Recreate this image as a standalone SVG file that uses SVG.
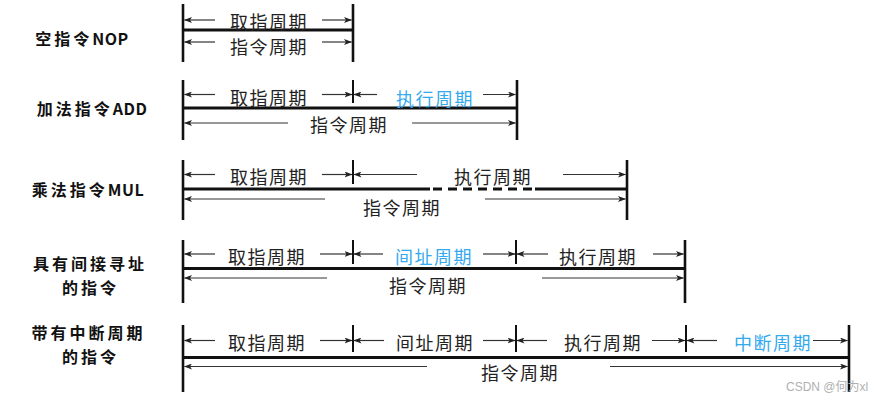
<svg xmlns="http://www.w3.org/2000/svg" width="888" height="401" viewBox="0 0 888 401">
<defs>
<marker id="ah" markerUnits="userSpaceOnUse" markerWidth="8" markerHeight="6" refX="7.5" refY="3" orient="auto">
<path d="M0,0 L8,3 L0,6 L2,3 z" fill="#222"/>
</marker>
<style>
.lbl{font-family:"Noto Sans CJK SC","Noto Sans",sans-serif;font-weight:bold;font-size:16px;fill:#111;text-anchor:middle;dominant-baseline:central;letter-spacing:3px}
.lat{letter-spacing:0.5px}
.t{font-family:"Noto Sans CJK SC","Noto Sans",sans-serif;font-size:18px;fill:#222;text-anchor:middle;dominant-baseline:central;letter-spacing:1.5px}
.b{fill:#33a9ee}
.v{stroke:#111;stroke-width:2.6;fill:none}
.k{stroke:#111;stroke-width:2;fill:none}
.h{stroke:#111;stroke-width:3;fill:none}
.d{stroke:#111;stroke-width:3;fill:none;stroke-dasharray:9 6}
.a{stroke:#333;stroke-width:1.2;fill:none;marker-end:url(#ah)}
.w{font-family:"Liberation Sans",Arial,"Noto Sans CJK SC",sans-serif;font-size:12px;fill:#b0b0b0}
</style>
</defs>
<rect width="888" height="401" fill="#ffffff"/>

<g id="row-nop">
<text class="lbl" x="82" y="38">空指令<tspan class="lat">NOP</tspan></text>
<line class="v" x1="183" y1="4" x2="183" y2="62"/>
<line class="v" x1="353" y1="4" x2="353" y2="62"/>
<line class="h" x1="183" y1="30" x2="353" y2="30"/>
<text class="t" x="269" y="20.5">取指周期</text>
<text class="t" x="269" y="46">指令周期</text>
</g>

<g id="row-add">
<text class="lbl" x="92" y="108">加法指令<tspan class="lat">ADD</tspan></text>
<line class="v" x1="183" y1="80" x2="183" y2="140"/>
<line class="v" x1="517" y1="80" x2="517" y2="140"/>
<line class="k" x1="353" y1="80" x2="353" y2="103"/>
<line class="h" x1="183" y1="108" x2="517" y2="108"/>
<text class="t" x="269" y="97">取指周期</text>
<text class="t b" x="435" y="98">执行周期</text>
<text class="t" x="349" y="124">指令周期</text>
</g>

<g id="row-mul">
<text class="lbl" x="88" y="189">乘法指令<tspan class="lat">MUL</tspan></text>
<line class="v" x1="183" y1="160" x2="183" y2="220"/>
<line class="v" x1="627" y1="160" x2="627" y2="220"/>
<line class="k" x1="353" y1="160" x2="353" y2="184"/>
<line class="h" x1="183" y1="189" x2="430" y2="189"/>
<line class="d" x1="433" y1="189" x2="535" y2="189"/>
<line class="h" x1="535" y1="189" x2="627" y2="189"/>
<text class="t" x="269" y="176">取指周期</text>
<text class="t" x="493" y="176">执行周期</text>
<text class="t" x="402" y="207">指令周期</text>
</g>

<g id="row-indirect">
<text class="lbl" x="90" y="263">具有间接寻址</text>
<text class="lbl" x="90.5" y="287">的指令</text>
<line class="v" x1="183" y1="240" x2="183" y2="303"/>
<line class="v" x1="685" y1="240" x2="685" y2="303"/>
<line class="k" x1="353" y1="240" x2="353" y2="264"/>
<line class="k" x1="516" y1="240" x2="516" y2="264"/>
<line class="h" x1="183" y1="268.5" x2="685" y2="268.5"/>
<text class="t" x="267" y="256">取指周期</text>
<text class="t b" x="434" y="256">间址周期</text>
<text class="t" x="598" y="256">执行周期</text>
<text class="t" x="428" y="285">指令周期</text>
</g>

<g id="row-interrupt">
<text class="lbl" x="88.5" y="332">带有中断周期</text>
<text class="lbl" x="90.5" y="356">的指令</text>
<line class="v" x1="183" y1="325" x2="183" y2="392"/>
<line class="v" x1="849" y1="325" x2="849" y2="392"/>
<line class="k" x1="353" y1="325" x2="353" y2="352"/>
<line class="k" x1="516" y1="325" x2="516" y2="352"/>
<line class="k" x1="686" y1="325" x2="686" y2="352"/>
<line class="h" x1="183" y1="357.5" x2="849" y2="357.5"/>
<text class="t" x="267" y="341.5">取指周期</text>
<text class="t" x="435" y="341.5">间址周期</text>
<text class="t" x="603" y="341.5">执行周期</text>
<text class="t b" x="773" y="341.5">中断周期</text>
<text class="t" x="520" y="372">指令周期</text>
</g>

<g id="connectors">
<line class="a" x1="215" y1="20" x2="184.5" y2="20"/>
<line class="a" x1="322" y1="20" x2="351.5" y2="20"/>
<line class="a" x1="215" y1="42" x2="184.5" y2="42"/>
<line class="a" x1="322" y1="42" x2="351.5" y2="42"/>

<line class="a" x1="215" y1="94.5" x2="184.5" y2="94.5"/>
<line class="a" x1="322" y1="94.5" x2="352" y2="94.5"/>
<line class="a" x1="377" y1="94.5" x2="354" y2="94.5"/>
<line class="a" x1="483" y1="94.5" x2="515.5" y2="94.5"/>
<line class="a" x1="288" y1="123" x2="184.5" y2="123"/>
<line class="a" x1="412" y1="123" x2="515.5" y2="123"/>

<line class="a" x1="215" y1="174.5" x2="184.5" y2="174.5"/>
<line class="a" x1="322" y1="174.5" x2="352" y2="174.5"/>
<line class="a" x1="417" y1="174.5" x2="354" y2="174.5"/>
<line class="a" x1="563" y1="174.5" x2="625.5" y2="174.5"/>
<line class="a" x1="325" y1="199" x2="184.5" y2="199"/>
<line class="a" x1="485" y1="199" x2="625.5" y2="199"/>

<line class="a" x1="215" y1="254" x2="184.5" y2="254"/>
<line class="a" x1="320" y1="254" x2="352" y2="254"/>
<line class="a" x1="383" y1="254" x2="354" y2="254"/>
<line class="a" x1="483" y1="254" x2="515" y2="254"/>
<line class="a" x1="548" y1="254" x2="517" y2="254"/>
<line class="a" x1="653" y1="254" x2="683.5" y2="254"/>
<line class="a" x1="327" y1="278" x2="184.5" y2="278"/>
<line class="a" x1="542" y1="278" x2="683.5" y2="278"/>

<line class="a" x1="215" y1="340.5" x2="184.5" y2="340.5"/>
<line class="a" x1="320" y1="340.5" x2="352" y2="340.5"/>
<line class="a" x1="384" y1="340.5" x2="354" y2="340.5"/>
<line class="a" x1="483" y1="340.5" x2="515" y2="340.5"/>
<line class="a" x1="547" y1="340.5" x2="517" y2="340.5"/>
<line class="a" x1="652" y1="340.5" x2="685" y2="340.5"/>
<line class="a" x1="717" y1="340.5" x2="687" y2="340.5"/>
<line class="a" x1="813" y1="340.5" x2="847.5" y2="340.5"/>
<line class="a" x1="427" y1="366.5" x2="184.5" y2="366.5"/>
<line class="a" x1="610" y1="366.5" x2="847.5" y2="366.5"/>
</g>

<text class="w" x="786" y="391">CSDN @何为xl</text>
</svg>
